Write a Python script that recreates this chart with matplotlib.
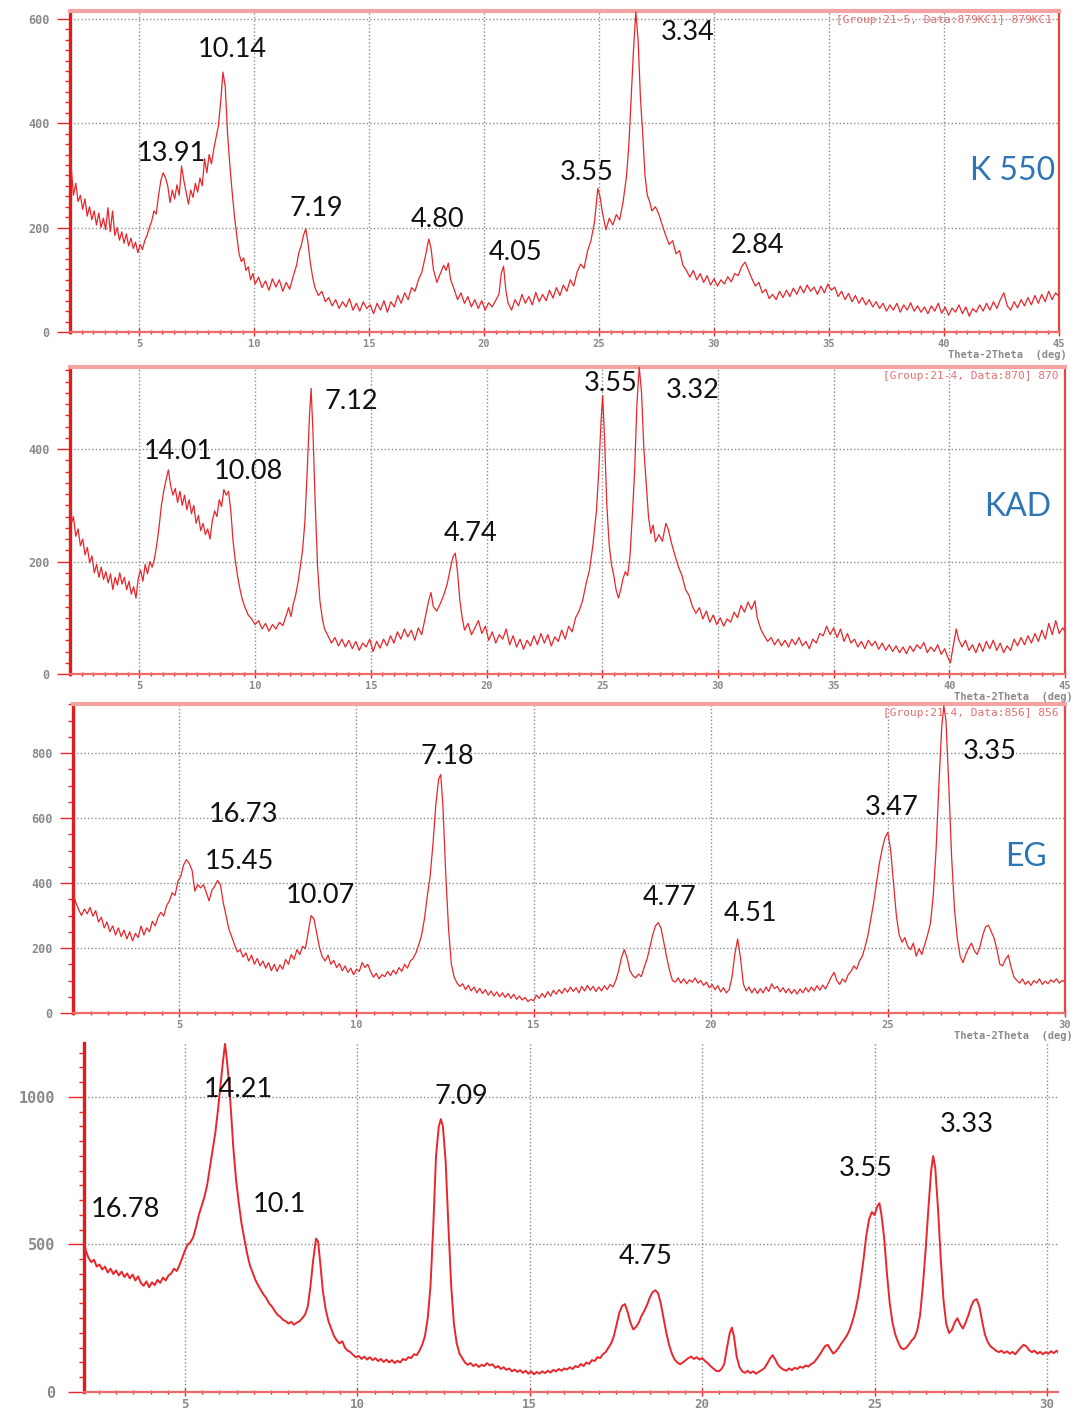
import matplotlib
matplotlib.use("Agg")
import matplotlib.pyplot as plt
from matplotlib.ticker import MultipleLocator

# ---------------- data (2-theta in degrees, intensity in counts) ----------------
k550_x = [2.00,2.08,2.15,2.25,2.35,2.45,2.55,2.65,2.75,2.85,2.95,3.05,3.15,3.25,3.35,3.45,3.55,3.65,3.75,3.85,
          3.95,4.05,4.15,4.25,4.35,4.45,4.55,4.65,4.75,4.85,4.95,5.05,5.15,5.25,5.35,5.45,5.55,5.65,5.75,5.85,
          5.95,6.05,6.15,6.25,6.35,6.45,6.55,6.65,6.75,6.85,6.95,7.05,7.15,7.25,7.35,7.45,7.55,7.65,7.75,7.85,
          7.95,8.05,8.15,8.25,8.35,8.45,8.55,8.65,8.75,8.85,8.95,9.05,9.15,9.25,9.35,9.45,9.55,9.65,9.75,9.85,
          9.95,10.05,10.2,10.35,10.5,10.65,10.8,10.95,11.1,11.25,11.4,11.55,11.7,11.85,11.95,12.05,12.15,12.25,12.35,12.45,
          12.55,12.65,12.8,12.95,13.1,13.25,13.4,13.55,13.7,13.85,14.0,14.15,14.3,14.45,14.6,14.75,14.9,15.05,15.2,15.35,
          15.5,15.65,15.8,15.95,16.1,16.25,16.4,16.55,16.7,16.85,17.0,17.15,17.3,17.45,17.6,17.7,17.8,17.95,18.1,18.25,
          18.35,18.45,18.55,18.7,18.85,19.0,19.15,19.3,19.45,19.6,19.75,19.9,20.05,20.2,20.35,20.5,20.65,20.75,20.85,20.95,
          21.05,21.2,21.35,21.5,21.65,21.8,21.95,22.1,22.25,22.4,22.55,22.7,22.85,23.0,23.15,23.3,23.45,23.6,23.75,23.9,
          24.05,24.2,24.35,24.5,24.65,24.8,24.95,25.05,25.15,25.3,25.45,25.6,25.75,25.9,26.05,26.2,26.3,26.4,26.5,26.6,
          26.7,26.8,26.9,27.0,27.1,27.2,27.3,27.45,27.6,27.75,27.9,28.05,28.2,28.35,28.5,28.65,28.8,28.95,29.1,29.25,
          29.4,29.55,29.7,29.85,30.0,30.15,30.3,30.45,30.6,30.75,30.9,31.05,31.2,31.35,31.5,31.65,31.8,31.95,32.1,32.25,
          32.4,32.55,32.7,32.85,33.0,33.15,33.3,33.45,33.6,33.75,33.9,34.05,34.2,34.35,34.5,34.65,34.8,34.95,35.1,35.25,
          35.4,35.55,35.7,35.85,36.0,36.15,36.3,36.45,36.6,36.75,36.9,37.05,37.2,37.35,37.5,37.65,37.8,37.95,38.1,38.25,
          38.4,38.55,38.7,38.85,39.0,39.15,39.3,39.45,39.6,39.75,39.9,40.05,40.2,40.35,40.5,40.65,40.8,40.95,41.1,41.25,
          41.4,41.55,41.7,41.85,42.0,42.15,42.3,42.45,42.6,42.75,42.9,43.05,43.2,43.35,43.5,43.65,43.8,43.95,44.1,44.25,
          44.4,44.55,44.7,44.85,45.0]
k550_y = [340,300,262,285,250,262,235,255,222,240,215,232,205,228,200,218,196,238,192,232,
          185,200,176,192,170,188,165,180,160,172,152,168,158,175,185,200,212,232,226,262,
          290,305,296,280,248,272,255,282,262,318,290,268,245,272,258,285,268,295,280,332,
          305,340,322,350,372,395,440,498,470,380,320,268,222,185,150,135,142,118,125,100,
          112,92,105,85,98,80,102,86,100,78,95,82,106,128,152,165,185,198,170,132,
          105,85,70,78,58,66,50,62,45,58,48,64,42,55,40,58,45,52,35,55,
          42,60,38,58,48,70,55,75,62,85,78,100,115,145,178,160,120,95,112,128,
          118,132,100,82,62,75,55,68,48,62,45,60,42,56,48,60,72,112,126,80,
          55,42,62,50,72,55,68,52,76,58,72,60,80,65,85,70,90,78,100,88,
          115,130,122,155,175,210,275,258,228,196,218,205,225,215,250,300,360,450,540,613,
          560,450,380,300,262,250,232,240,226,205,185,168,175,150,156,128,118,105,118,100,
          112,95,108,90,102,88,100,92,106,96,112,108,125,134,118,102,88,95,75,82,
          64,72,62,78,66,80,68,84,72,88,75,90,78,86,72,88,75,92,80,86,
          68,78,62,74,58,70,55,66,52,62,48,58,45,55,40,52,42,55,38,52,
          42,56,40,50,38,48,35,50,40,55,36,48,32,46,38,52,35,48,30,45,
          38,52,40,55,42,58,45,62,75,50,42,58,46,62,50,66,52,70,55,72,
          58,78,62,75,68]

kad_x = [2.00,2.08,2.15,2.25,2.35,2.45,2.55,2.65,2.75,2.85,2.95,3.05,3.15,3.25,3.35,3.45,3.55,3.65,3.75,3.85,
         3.95,4.05,4.15,4.25,4.35,4.45,4.55,4.65,4.75,4.85,4.95,5.05,5.15,5.25,5.35,5.45,5.55,5.65,5.75,5.85,
         5.95,6.05,6.15,6.25,6.35,6.45,6.55,6.65,6.75,6.85,6.95,7.05,7.15,7.25,7.35,7.45,7.55,7.65,7.75,7.85,
         7.95,8.05,8.15,8.25,8.35,8.45,8.55,8.65,8.75,8.85,8.95,9.05,9.15,9.25,9.35,9.45,9.55,9.7,9.85,10.0,
         10.15,10.3,10.45,10.6,10.75,10.9,11.05,11.2,11.35,11.45,11.55,11.65,11.75,11.85,11.95,12.05,12.15,12.25,12.35,12.42,
         12.5,12.6,12.7,12.8,12.9,13.0,13.15,13.3,13.45,13.6,13.75,13.9,14.05,14.2,14.35,14.5,14.65,14.8,14.95,15.1,
         15.25,15.4,15.55,15.7,15.85,16.0,16.15,16.3,16.45,16.6,16.75,16.9,17.05,17.2,17.35,17.5,17.6,17.7,17.85,18.0,
         18.15,18.3,18.45,18.55,18.65,18.75,18.85,18.95,19.05,19.2,19.35,19.5,19.65,19.8,19.95,20.1,20.25,20.4,20.55,20.7,
         20.85,21.0,21.15,21.3,21.45,21.6,21.75,21.9,22.05,22.2,22.35,22.5,22.65,22.8,22.95,23.1,23.25,23.4,23.55,23.7,
         23.85,24.0,24.15,24.3,24.45,24.6,24.75,24.85,24.95,25.02,25.1,25.2,25.3,25.4,25.5,25.6,25.7,25.8,25.9,26.0,
         26.1,26.2,26.3,26.4,26.5,26.6,26.7,26.8,26.9,27.0,27.1,27.2,27.3,27.45,27.6,27.75,27.85,28.0,28.15,28.3,
         28.45,28.6,28.75,28.9,29.05,29.2,29.35,29.5,29.65,29.8,29.95,30.1,30.25,30.4,30.55,30.7,30.85,31.0,31.15,31.3,
         31.45,31.6,31.7,31.85,32.0,32.15,32.3,32.45,32.6,32.75,32.9,33.05,33.2,33.35,33.5,33.65,33.8,33.95,34.1,34.25,
         34.4,34.55,34.7,34.85,35.0,35.15,35.3,35.45,35.6,35.75,35.9,36.05,36.2,36.35,36.5,36.65,36.8,36.95,37.1,37.25,
         37.4,37.55,37.7,37.85,38.0,38.15,38.3,38.45,38.6,38.75,38.9,39.05,39.2,39.35,39.5,39.65,39.8,39.95,40.05,40.15,
         40.3,40.4,40.55,40.7,40.85,41.0,41.15,41.3,41.45,41.6,41.75,41.9,42.05,42.2,42.35,42.5,42.65,42.8,42.95,43.1,
         43.25,43.4,43.55,43.7,43.85,44.0,44.15,44.3,44.45,44.6,44.75,44.9,45.0]
kad_y = [298,270,280,245,258,228,240,212,225,198,210,180,195,172,190,168,182,162,178,150,
         172,158,180,160,172,150,165,142,155,135,170,185,165,195,178,200,190,205,230,262,
         300,325,345,363,335,318,330,305,325,300,318,292,310,285,300,268,282,255,268,248,
         258,240,272,290,280,310,298,328,318,325,290,235,200,172,150,132,120,105,98,88,
         95,80,90,76,88,80,92,86,105,118,102,125,140,162,190,220,270,360,460,508,
         430,300,190,130,100,80,68,55,65,50,62,48,60,45,58,42,55,48,62,40,
         58,46,62,50,68,55,75,62,80,66,78,60,82,70,100,130,145,120,112,125,
         140,160,190,208,215,180,130,100,78,90,70,82,95,72,85,60,75,55,70,62,
         80,52,68,48,62,44,60,50,68,52,72,55,70,50,66,58,78,62,85,75,
         100,112,130,160,185,230,290,360,450,495,420,300,230,195,175,150,135,150,170,182,
         175,210,280,360,480,546,500,400,340,280,250,265,235,248,236,268,258,232,210,190,
         175,150,140,120,108,118,98,112,92,105,88,100,85,98,92,110,100,122,110,128,
         115,130,100,80,68,58,65,52,62,50,60,48,62,52,65,50,58,45,62,55,
         72,68,85,70,82,65,80,58,72,55,62,48,58,45,60,50,58,44,55,42,
         52,40,50,38,48,36,50,40,52,45,56,38,48,40,52,35,45,28,20,45,
         80,62,48,60,42,52,38,55,40,58,45,60,42,55,38,50,42,62,50,65,
         52,68,55,72,58,78,62,90,70,95,72,82,76]

eg_x = [2.00,2.08,2.16,2.24,2.32,2.40,2.48,2.56,2.64,2.72,2.80,2.88,2.96,3.04,3.12,3.20,3.28,3.36,3.44,3.52,
        3.60,3.68,3.76,3.84,3.92,4.00,4.08,4.16,4.24,4.32,4.40,4.48,4.56,4.64,4.72,4.80,4.88,4.96,5.04,5.12,
        5.20,5.28,5.36,5.44,5.52,5.60,5.68,5.76,5.84,5.92,6.00,6.08,6.16,6.24,6.32,6.40,6.48,6.56,6.64,6.72,
        6.80,6.88,6.96,7.04,7.12,7.20,7.28,7.36,7.44,7.52,7.60,7.68,7.76,7.84,7.92,8.00,8.08,8.16,8.24,8.32,
        8.40,8.48,8.56,8.64,8.72,8.80,8.88,8.96,9.04,9.12,9.20,9.28,9.36,9.44,9.52,9.60,9.68,9.76,9.84,9.92,
        10.00,10.08,10.16,10.24,10.32,10.40,10.48,10.56,10.64,10.72,10.80,10.88,10.96,11.04,11.12,11.20,11.28,11.36,11.44,11.52,
        11.60,11.68,11.76,11.84,11.92,12.00,12.08,12.16,12.24,12.32,12.38,12.44,12.52,12.60,12.68,12.76,12.84,12.92,13.00,13.08,
        13.16,13.24,13.32,13.40,13.48,13.56,13.64,13.72,13.80,13.88,13.96,14.04,14.12,14.20,14.28,14.36,14.44,14.52,14.60,14.68,
        14.76,14.84,14.92,15.00,15.08,15.16,15.24,15.32,15.40,15.48,15.56,15.64,15.72,15.80,15.88,15.96,16.04,16.12,16.20,16.28,
        16.36,16.44,16.52,16.60,16.68,16.76,16.84,16.92,17.00,17.08,17.16,17.24,17.32,17.40,17.48,17.56,17.64,17.72,17.80,17.88,
        17.96,18.04,18.12,18.20,18.28,18.36,18.44,18.52,18.60,18.68,18.76,18.84,18.92,19.00,19.08,19.16,19.24,19.32,19.40,19.48,
        19.56,19.64,19.72,19.80,19.88,19.96,20.04,20.12,20.20,20.28,20.36,20.44,20.52,20.60,20.68,20.76,20.84,20.92,21.00,21.08,
        21.16,21.24,21.32,21.40,21.48,21.56,21.64,21.72,21.80,21.88,21.96,22.04,22.12,22.20,22.28,22.36,22.44,22.52,22.60,22.68,
        22.76,22.84,22.92,23.00,23.08,23.16,23.24,23.32,23.40,23.48,23.56,23.64,23.72,23.80,23.88,23.96,24.04,24.12,24.20,24.28,
        24.36,24.44,24.52,24.60,24.68,24.76,24.84,24.92,25.00,25.08,25.16,25.24,25.32,25.40,25.48,25.56,25.64,25.72,25.80,25.88,
        25.96,26.04,26.12,26.20,26.28,26.36,26.44,26.52,26.58,26.64,26.72,26.80,26.88,26.96,27.04,27.12,27.20,27.28,27.36,27.44,
        27.52,27.60,27.68,27.76,27.84,27.92,28.00,28.08,28.16,28.24,28.32,28.40,28.48,28.56,28.64,28.72,28.80,28.88,28.96,29.04,
        29.12,29.20,29.28,29.36,29.44,29.52,29.60,29.68,29.76,29.84,29.92,30.00]
eg_y = [370,340,318,300,320,305,325,298,315,280,295,262,280,250,268,240,262,235,255,228,
        250,222,245,232,268,240,262,250,282,268,295,310,298,330,345,370,362,405,420,455,
        472,460,440,375,395,385,395,372,345,378,390,408,395,340,300,258,235,210,188,195,
        172,185,160,178,150,168,145,160,138,155,130,150,128,148,135,165,150,180,165,195,
        180,205,198,250,300,290,245,200,172,160,178,150,162,140,152,130,145,125,138,118,
        135,128,155,140,150,128,110,122,105,118,112,128,115,132,120,140,128,150,138,160,
        168,185,210,240,290,360,420,520,640,720,734,640,430,260,150,110,92,82,90,72,
        85,68,80,62,76,60,72,55,68,52,65,50,62,48,60,45,58,42,52,40,
        48,35,42,38,55,45,60,48,66,52,70,58,72,60,76,64,80,66,78,62,
        82,68,85,70,82,66,80,68,84,72,88,80,100,130,170,195,170,130,115,108,
        120,112,140,165,200,240,268,278,260,215,170,130,100,95,108,92,105,90,102,95,
        108,92,100,85,95,78,88,72,84,65,78,62,72,110,180,228,170,90,68,80,
        62,76,60,75,62,80,66,90,75,82,65,78,62,75,60,72,58,74,62,78,
        65,80,68,84,70,86,74,92,110,125,100,88,105,95,118,128,145,135,160,175,
        205,240,290,340,400,460,505,540,556,500,400,300,240,218,232,205,195,215,175,198,
        180,210,240,275,360,500,700,880,945,900,700,480,320,230,175,155,180,200,215,192,
        180,205,240,265,270,250,230,195,150,145,165,178,140,110,100,92,105,88,98,85,
        100,92,105,88,98,90,102,95,105,92,100,96]

ca_x = [2.06,2.12,2.20,2.28,2.36,2.44,2.52,2.60,2.68,2.76,2.84,2.92,3.00,3.08,3.16,3.24,3.32,3.40,3.48,3.56,
        3.64,3.72,3.80,3.88,3.96,4.04,4.12,4.20,4.28,4.36,4.44,4.52,4.60,4.68,4.76,4.84,4.92,5.00,5.08,5.16,
        5.24,5.32,5.40,5.48,5.56,5.64,5.72,5.80,5.88,5.96,6.04,6.10,6.16,6.22,6.28,6.34,6.40,6.48,6.56,6.64,
        6.72,6.80,6.88,6.96,7.04,7.12,7.20,7.28,7.36,7.44,7.52,7.60,7.68,7.76,7.84,7.92,8.00,8.08,8.16,8.24,
        8.32,8.40,8.48,8.56,8.64,8.72,8.80,8.86,8.92,9.00,9.08,9.16,9.24,9.32,9.40,9.48,9.56,9.64,9.72,9.80,
        9.88,9.96,10.04,10.12,10.20,10.28,10.36,10.44,10.52,10.60,10.68,10.76,10.84,10.92,11.00,11.08,11.16,11.24,11.32,11.40,
        11.48,11.56,11.64,11.72,11.80,11.88,11.96,12.04,12.12,12.20,12.28,12.36,12.42,12.48,12.56,12.64,12.72,12.80,12.88,12.96,
        13.04,13.12,13.20,13.28,13.36,13.44,13.52,13.60,13.68,13.76,13.84,13.92,14.00,14.08,14.16,14.24,14.32,14.40,14.48,14.56,
        14.64,14.72,14.80,14.88,14.96,15.04,15.12,15.20,15.28,15.36,15.44,15.52,15.60,15.68,15.76,15.84,15.92,16.00,16.08,16.16,
        16.24,16.32,16.40,16.48,16.56,16.64,16.72,16.80,16.88,16.96,17.04,17.12,17.20,17.28,17.36,17.44,17.52,17.60,17.68,17.76,
        17.84,17.92,18.00,18.08,18.16,18.24,18.32,18.40,18.48,18.56,18.64,18.72,18.80,18.88,18.96,19.04,19.12,19.20,19.28,19.36,
        19.44,19.52,19.60,19.68,19.76,19.84,19.92,20.00,20.08,20.16,20.24,20.32,20.40,20.48,20.56,20.64,20.72,20.80,20.86,20.92,
        21.00,21.08,21.16,21.24,21.32,21.40,21.48,21.56,21.64,21.72,21.80,21.88,21.96,22.04,22.12,22.20,22.28,22.36,22.44,22.52,
        22.60,22.68,22.76,22.84,22.92,23.00,23.08,23.16,23.24,23.32,23.40,23.48,23.56,23.64,23.72,23.80,23.88,23.96,24.04,24.12,
        24.20,24.28,24.36,24.44,24.52,24.60,24.68,24.76,24.84,24.92,25.00,25.08,25.14,25.20,25.28,25.36,25.44,25.52,25.60,25.68,
        25.76,25.84,25.92,26.00,26.08,26.16,26.24,26.32,26.40,26.48,26.56,26.64,26.70,26.76,26.84,26.92,27.00,27.08,27.16,27.24,
        27.32,27.40,27.48,27.56,27.64,27.72,27.80,27.88,27.96,28.04,28.12,28.20,28.28,28.36,28.44,28.52,28.60,28.68,28.76,28.84,
        28.92,29.00,29.08,29.16,29.24,29.32,29.40,29.48,29.56,29.64,29.72,29.80,29.88,29.96,30.04,30.12,30.20,30.28,30.32]
ca_y = [520,480,455,440,448,425,432,415,425,405,418,400,412,395,408,390,402,385,398,378,
        392,370,360,375,355,372,362,380,370,388,378,395,402,418,410,430,455,480,500,508,
        525,560,600,630,660,700,760,820,880,960,1050,1120,1180,1120,1040,940,830,720,640,570,
        520,470,430,405,380,362,345,330,318,300,290,275,262,255,245,240,232,238,228,235,
        240,250,262,290,360,450,520,510,440,340,280,240,215,190,175,165,172,150,140,135,
        125,118,122,112,120,110,118,108,115,105,112,102,110,100,108,98,106,100,112,108,
        118,115,128,125,140,160,190,250,360,560,800,900,925,900,780,560,360,230,165,130,
        115,100,92,98,88,94,85,92,88,98,90,94,82,88,78,84,75,80,70,76,
        68,74,65,72,62,70,60,68,62,70,64,72,66,75,70,78,72,80,76,84,
        78,88,84,95,88,100,95,108,105,118,115,128,135,150,165,190,230,270,292,298,
        270,235,212,220,235,258,275,295,320,338,345,335,300,250,200,160,130,110,100,94,
        100,108,115,120,112,118,110,115,105,98,88,80,72,70,78,95,150,200,218,190,
        120,85,70,65,72,64,70,62,68,74,80,95,112,125,110,92,82,76,72,80,
        74,82,78,86,82,90,86,95,100,112,125,140,155,160,145,130,138,150,165,178,
        192,212,240,275,320,380,450,530,585,610,600,630,640,600,520,400,300,235,195,170,
        150,145,150,162,175,185,210,260,360,480,620,750,800,760,620,450,310,230,200,210,
        235,250,230,215,235,260,290,310,315,290,240,195,170,155,148,140,135,140,132,138,
        130,136,128,140,150,160,155,142,135,140,130,136,128,135,130,138,132,140,135]

# ---------------- peak labels (d-spacings in Angstrom) ----------------
k550_labels = ["10.14", "13.91", "7.19", "4.80", "4.05", "3.55", "3.34", "2.84"]
kad_labels = ["14.01", "10.08", "7.12", "4.74", "3.55", "3.32"]
eg_labels = ["16.73", "15.45", "10.07", "7.18", "4.77", "4.51", "3.47", "3.35"]
ca_labels = ["16.78", "14.21", "10.1", "7.09", "4.75", "3.55", "3.33"]
sample_names = ["K 550", "KAD", "EG", ""]
headers = ["[Group:21-5, Data:879KC1] 879KC1", "[Group:21-4, Data:870] 870", "[Group:21-4, Data:856] 856", ""]

# label anchor positions in data coordinates (layout only)
k550_pos = [(9.04, 542), (6.43, 342), (12.70, 237), (18.0, 215), (21.35, 152), (24.48, 306), (28.87, 573), (31.91, 165)]
kad_pos = [(6.70, 395), (9.70, 361), (14.17, 485), (19.30, 249), (25.35, 516), (28.91, 505)]
eg_pos = [(6.80, 612), (6.71, 465), (8.99, 363), (12.56, 788), (18.85, 357), (21.12, 305), (25.11, 631), (27.87, 806)]
ca_pos = [(3.28, 620), (6.54, 1024), (7.73, 637), (13.02, 1003), (18.37, 458), (24.74, 759), (27.67, 908)]
name_pos = [(43.0, 308), (42.96, 297), (28.90, 480), None]

W, H = 1074, 1410
fig = plt.figure(figsize=(W / 100, H / 100), dpi=100)
fig.patch.set_facecolor("white")

RED = "#e8262b"
GREY = "#8a8a8a"
BLUE = "#2e75b6"
MONO = "DejaVu Sans Mono"
LABEL_FONT = ["Lato", "DejaVu Sans"]

panels = [
    dict(box=(70, 11, 1059, 332), x=k550_x, y=k550_y, xlim=(2, 45), ylim=(0, 615), ymaj=200, ymin=20,
         labels=k550_labels, pos=k550_pos, ytick_fs=8.5, xtick_fs=7.5, ylen=9.5, ypad=5, xpad=2,
         lw=0.9, frame=True, theta=True),
    dict(box=(70, 367, 1065, 674), x=kad_x, y=kad_y, xlim=(2, 45), ylim=(0, 546), ymaj=200, ymin=20,
         labels=kad_labels, pos=kad_pos, ytick_fs=8.5, xtick_fs=7.5, ylen=9.5, ypad=5, xpad=2,
         lw=0.9, frame=True, theta=True),
    dict(box=(73, 704, 1065, 1013), x=eg_x, y=eg_y, xlim=(2, 30), ylim=(0, 951), ymaj=200, ymin=50,
         labels=eg_labels, pos=eg_pos, ytick_fs=8.5, xtick_fs=7.5, ylen=9.5, ypad=5, xpad=2,
         lw=0.9, frame=True, theta=True),
    dict(box=(84, 1043, 1058, 1392), x=ca_x, y=ca_y, xlim=(2.07, 30.32), ylim=(0, 1183), ymaj=500, ymin=50,
         labels=ca_labels, pos=ca_pos, ytick_fs=11, xtick_fs=9, ylen=11.5, ypad=9, xpad=1,
         lw=1.4, frame=False, theta=False),
]

for i, p in enumerate(panels):
    l, t, r, b = p["box"]
    ax = fig.add_axes([l / W, 1 - b / H, (r - l) / W, (b - t) / H])
    ax.set_facecolor("white")
    ax.plot(p["x"], p["y"], color=RED, lw=p["lw"], zorder=3)
    ax.set_xlim(*p["xlim"])
    ax.set_ylim(*p["ylim"])

    ax.xaxis.set_major_locator(MultipleLocator(5))
    ax.xaxis.set_minor_locator(MultipleLocator(0.5))
    ax.yaxis.set_major_locator(MultipleLocator(p["ymaj"]))
    ax.yaxis.set_minor_locator(MultipleLocator(p["ymin"]))

    ax.grid(True, which="major", axis="both", color="#8c8c8c", lw=1.0, ls=(0, (1, 1.6)), zorder=1)

    ax.tick_params(axis="y", which="major", direction="out", length=p["ylen"], width=1.0, color=RED,
                   labelcolor=GREY, labelsize=p["ytick_fs"], pad=p["ypad"])
    ax.tick_params(axis="y", which="minor", direction="out", length=3.5, width=1.0, color=RED)
    ax.tick_params(axis="x", which="major", direction="inout", length=6, width=1.0, color=RED,
                   labelcolor=GREY, labelsize=p["xtick_fs"], pad=p["xpad"])
    ax.tick_params(axis="x", which="minor", direction="inout", length=3.5, width=1.0, color=RED)
    for lab in ax.get_xticklabels() + ax.get_yticklabels():
        lab.set_fontfamily(MONO)
        lab.set_fontweight("bold")

    ax.spines["left"].set_color("#e01c1c")
    ax.spines["left"].set_linewidth(2.4)
    ax.spines["bottom"].set_color("#ef6b6b")
    ax.spines["bottom"].set_linewidth(1.6)
    if p["frame"]:
        ax.spines["top"].set_color("#f4a3a3")
        ax.spines["top"].set_linewidth(3.0)
        ax.spines["right"].set_color("#e64646")
        ax.spines["right"].set_linewidth(1.6)
    else:
        ax.spines["top"].set_visible(False)
        ax.spines["right"].set_visible(False)

    for txt, (px, py) in zip(p["labels"], p["pos"]):
        ax.text(px, py, txt, ha="center", va="center", fontsize=19.5, color="#111111",
                family=LABEL_FONT, zorder=5)

    if name_pos[i] is not None:
        nx, ny = name_pos[i]
        ax.text(nx, ny, sample_names[i], ha="center", va="center", fontsize=23, color=BLUE,
                family=LABEL_FONT, zorder=5)

    if headers[i]:
        ax.text(0.993, 0.988, headers[i], transform=ax.transAxes, ha="right", va="top",
                fontsize=8, color="#e07070", family=MONO, zorder=5)

    if p["theta"]:
        ax.annotate("Theta-2Theta  (deg)", xy=(1.008, 0), xycoords="axes fraction",
                    xytext=(0, -16.5), textcoords="offset points", ha="right", va="center",
                    fontsize=7.5, color=GREY, family=MONO, fontweight="bold")

fig.savefig("out.png", dpi=100, facecolor="white")
